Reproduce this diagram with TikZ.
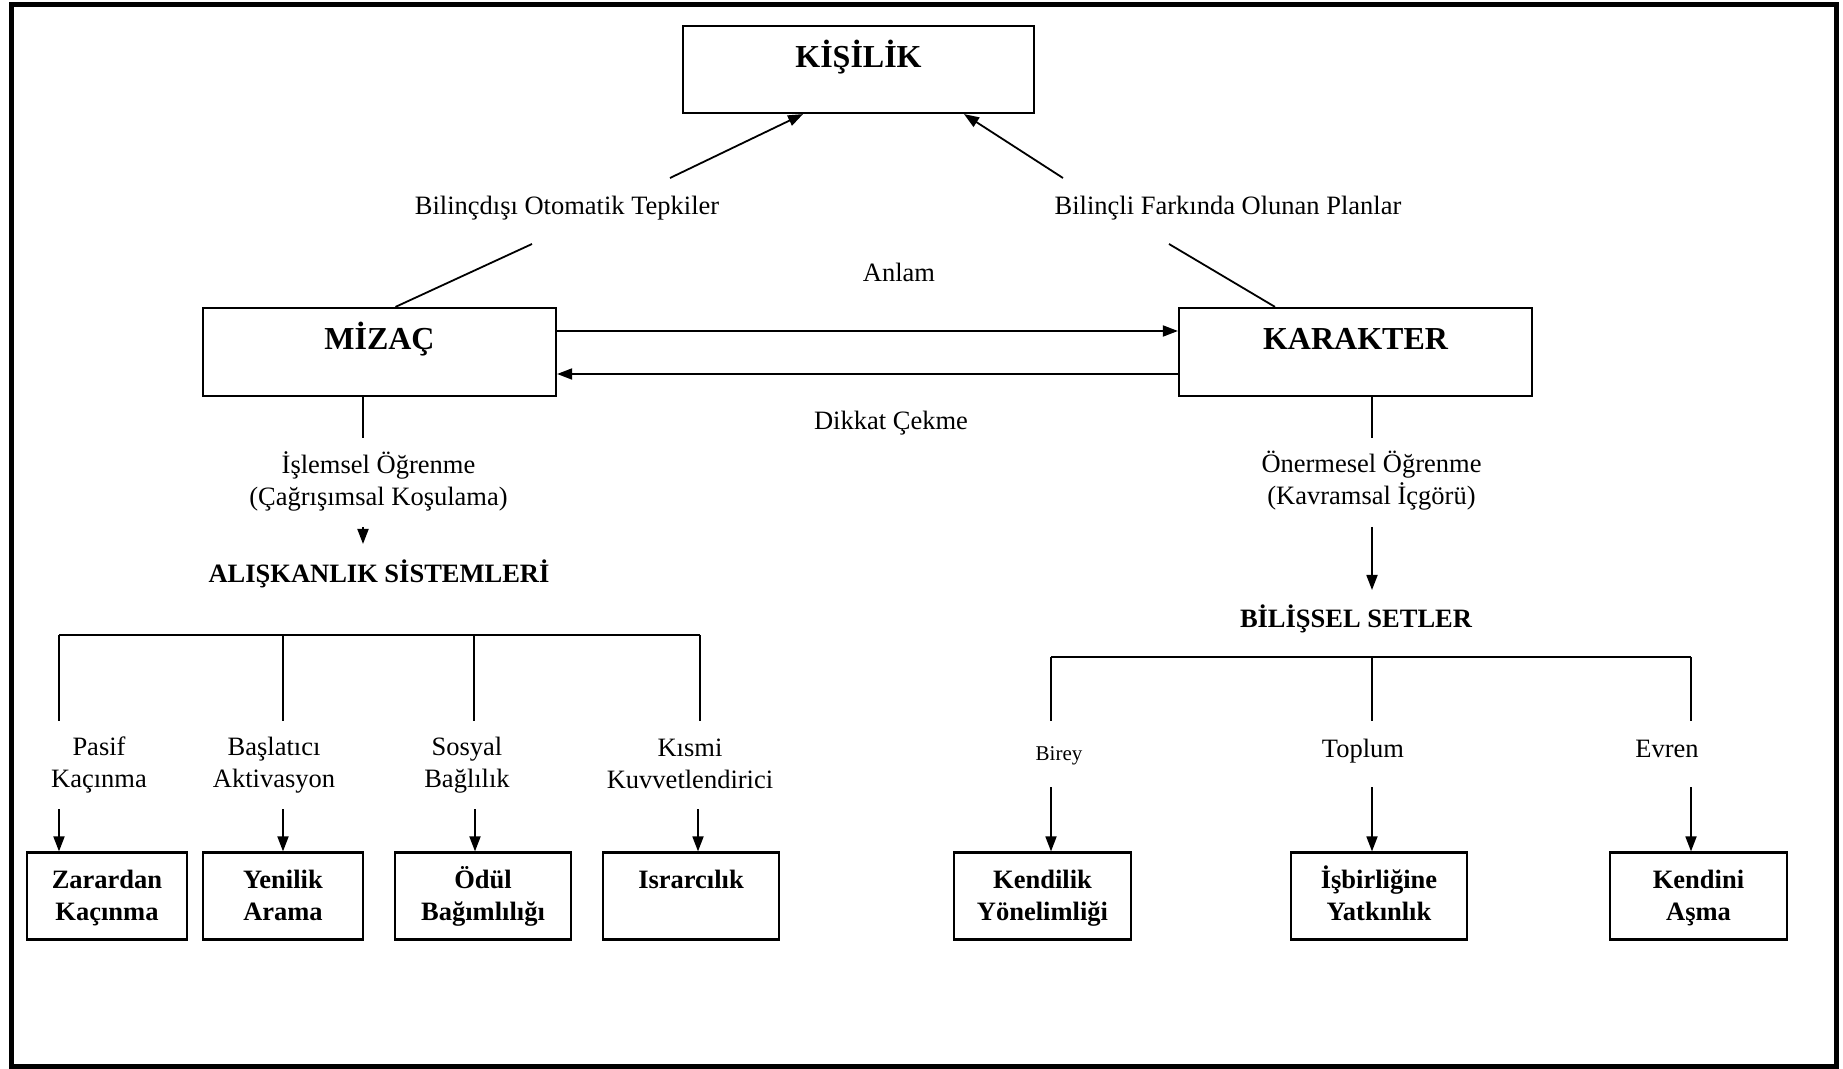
\documentclass[tikz,border=0pt]{standalone}
\usepackage{fontspec}
\setmainfont{Liberation Serif}
\usetikzlibrary{arrows.meta}
\newcommand{\topline}{\vphantom{Ö}}
\newcommand{\botline}{\vphantom{ğ}}
\begin{document}
\begin{tikzpicture}[x=0.5pt,y=-0.5pt,
  txt/.style={font=\fontsize{13.25pt}{16pt}\selectfont, inner sep=0pt, align=center},
  boldtxt/.style={font=\fontsize{13.25pt}{16pt}\selectfont\bfseries, inner sep=0pt},
  smalltxt/.style={font=\fontsize{10.5pt}{12.5pt}\selectfont, inner sep=0pt},
  ttl/.style={font=\fontsize{16pt}{19pt}\selectfont\bfseries, inner sep=0pt, anchor=base},
  bigbox/.style={draw, line width=1.1pt, inner sep=0pt},
  leafbox/.style={draw, line width=1.1pt, inner sep=0pt, align=center,
    minimum height=43.5pt, font=\fontsize{13.25pt}{16pt}\selectfont\bfseries},
  ln/.style={line width=0.9pt},
  arr/.style={line width=0.9pt, -{Triangle[length=7.5pt,width=5.5pt]}}]
\useasboundingbox (0,0) rectangle (1843,1069);

% frame
\draw[line width=2.5pt] (11,5) rectangle (1836,1066);

% top level boxes
\node[bigbox, minimum width=175.5pt, minimum height=43.5pt,
  label={[ttl, yshift=-21.25pt]north:KİŞİLİK}] (kisilik) at (858.5,69.5) {};
\node[bigbox, minimum width=176.5pt, minimum height=44pt,
  label={[ttl, yshift=-21.5pt]north:MİZAÇ}] (mizac) at (379.5,352) {};
\node[bigbox, minimum width=176.5pt, minimum height=44pt,
  label={[ttl, yshift=-21.5pt]north:KARAKTER}] (karakter) at (1355.5,352) {};

% labels between the top boxes
\node[txt, anchor=base] (bilincdisi) at (567,215) {Bilinçdışı Otomatik Tepkiler};
\node[txt, anchor=base] (bilincli) at (1228,215) {Bilinçli Farkında Olunan Planlar};
\node[txt, anchor=base] (anlam) at (899,282) {Anlam};
\node[txt, anchor=base] (dikkat) at (891,430) {Dikkat Çekme};

% links to KİŞİLİK
\coordinate (lA) at (532,244);
\coordinate (lB) at (670,178);
\coordinate (rA) at (1169,244);
\coordinate (rB) at (1063,178);
\draw[ln] ([xshift=8pt]mizac.north) -- (lA);
\draw[arr] (lB) -- ([xshift=-27.75pt]kisilik.south);
\draw[arr] (rB) -- ([xshift=52.75pt]kisilik.south);
\draw[ln] (rA) -- ([xshift=-40.25pt]karakter.north);

% MİZAÇ <-> KARAKTER
\draw[arr] ([yshift=10.5pt]mizac.east) -- ([yshift=10.5pt]karakter.west);
\draw[arr] ([yshift=-11pt]karakter.west) -- ([yshift=-11pt]mizac.east);

% ---------- left branch ----------
\coordinate (mz1) at (363,438);
\coordinate (mz2) at (363,527);
\coordinate (mz3) at (363,544);
\draw[ln] ([xshift=-8.25pt]mizac.south) -- (mz1);
\node[txt] (islemsel) at (378.5,481) {İşlemsel Öğrenme\\(Çağrışımsal Koşulama)};
\draw[arr] (mz2) -- (mz3);
\node[boldtxt, anchor=base] (aliskanlik) at (379,582) {ALIŞKANLIK SİSTEMLERİ};

\coordinate (la1) at (59,635);
\coordinate (la2) at (283,635);
\coordinate (la3) at (474,635);
\coordinate (la4) at (700,635);
\draw[line width=1pt] (la1) -- (la4);
\foreach \c in {la1,la2,la3,la4}
  \draw[ln] (\c) -- ++(0,86);

\node[txt] (pasif) at (99,765) {Pasif\\Kaçınma};
\node[txt] (baslatici) at (274,765) {Başlatıcı\\Aktivasyon};
\node[txt] (sosyal) at (467,765) {Sosyal\\Bağlılık};
\node[txt] (kismi) at (690,764) {Kısmi\\Kuvvetlendirici};

\node[leafbox, minimum width=80pt] (zarar) at (107,896) {\topline Zarardan\\Kaçınma\botline};
\node[leafbox, minimum width=80pt] (yenilik) at (283,896) {\topline Yenilik\\Arama\botline};
\node[leafbox, minimum width=88pt] (odul) at (483,896) {\topline Ödül\\Bağımlılığı\botline};
\node[leafbox, minimum width=88pt] (israr) at (691,896) {\topline Israrcılık\\\botline};

\coordinate (ta1) at (59,809);
\coordinate (ta2) at (283,809);
\coordinate (ta3) at (475,809);
\coordinate (ta4) at (698,809);
\draw[arr] (ta1) -- (ta1 |- zarar.north);
\draw[arr] (ta2) -- (ta2 |- yenilik.north);
\draw[arr] (ta3) -- (ta3 |- odul.north);
\draw[arr] (ta4) -- (ta4 |- israr.north);

% ---------- right branch ----------
\coordinate (kr1) at (1372,438);
\coordinate (kr2) at (1372,527);
\coordinate (kr3) at (1372,590);
\draw[ln] ([xshift=8.25pt]karakter.south) -- (kr1);
\node[txt] (onermesel) at (1371.5,481) {Önermesel Öğrenme\\(Kavramsal İçgörü)};
\draw[arr] (kr2) -- (kr3);
\node[boldtxt, anchor=base] (bilissel) at (1356,627) {BİLİŞSEL SETLER};

\coordinate (ra1) at (1051,657);
\coordinate (ra2) at (1372,657);
\coordinate (ra3) at (1691,657);
\draw[line width=1pt] (ra1) -- (ra3);
\foreach \c in {ra1,ra2,ra3}
  \draw[ln] (\c) -- ++(0,64);

\node[smalltxt, anchor=base] (birey) at (1059,760) {Birey};
\node[txt, anchor=base] (toplum) at (1363,757) {Toplum};
\node[txt, anchor=base] (evren) at (1667,757) {Evren};

\node[leafbox, minimum width=88.5pt] (kendilik) at (1042.5,896) {\topline Kendilik\\Yönelimliği\botline};
\node[leafbox, minimum width=88pt] (isbirligi) at (1379,896) {\topline İşbirliğine\\Yatkınlık\botline};
\node[leafbox, minimum width=88.5pt] (kendini) at (1698.5,896) {\topline Kendini\\Aşma\botline};

\coordinate (tb1) at (1051,787);
\coordinate (tb2) at (1372,787);
\coordinate (tb3) at (1691,787);
\draw[arr] (tb1) -- (tb1 |- kendilik.north);
\draw[arr] (tb2) -- (tb2 |- isbirligi.north);
\draw[arr] (tb3) -- (tb3 |- kendini.north);
\end{tikzpicture}
\end{document}
